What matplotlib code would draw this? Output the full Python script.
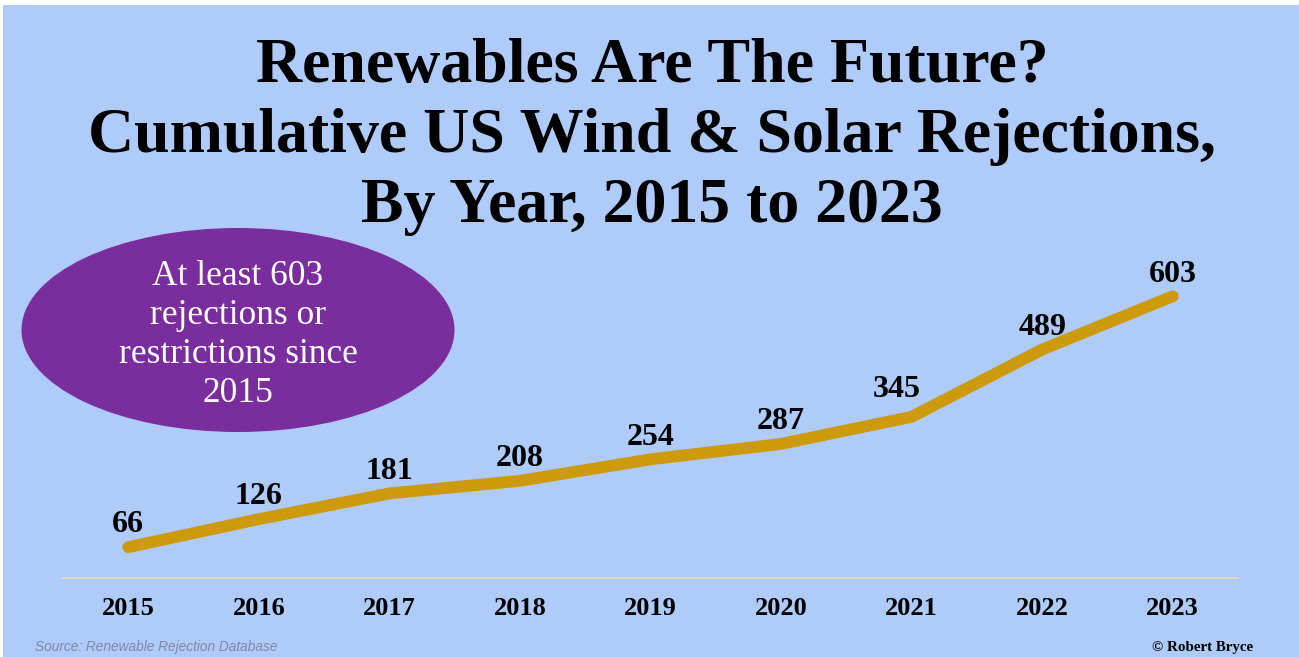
import matplotlib
matplotlib.use('Agg')
import matplotlib.pyplot as plt
from matplotlib.patches import Ellipse, Rectangle

years = [2015, 2016, 2017, 2018, 2019, 2020, 2021, 2022, 2023]
rejections = [66, 126, 181, 208, 254, 287, 345, 489, 603]
title_lines = ['Renewables Are The Future?',
               'Cumulative US Wind & Solar Rejections,',
               'By Year, 2015 to 2023']
bubble_text = 'At least 603\nrejections or\nrestrictions since\n2015'

W, H = 1299, 657
bg = '#AECBFA'
serif = 'Liberation Serif'

fig = plt.figure(figsize=(W / 100, H / 100), dpi=100, facecolor='white')
fig.patches.append(Rectangle((3 / W, 0), 1, 1 - 5 / H, transform=fig.transFigure,
                             facecolor=bg, edgecolor='none', zorder=-10))

ax = fig.add_axes([63 / W, 79 / H, (1238 - 63) / W, 328 / H])
ax.set_facecolor('none')
ax.plot(years, rejections, color='#CC9A0A', lw=8.5, solid_capstyle='round',
        solid_joinstyle='round')
ax.set_xlim(2014.5, 2023.5)
ax.set_ylim(0, 702)

# little nudges for the labels, in points
label_dx = [0, 0, 0, 0, 0, 0, -11, 0, 0]
label_dy = [16, 16, 16, 16, 16, 16, 20, 16, 16]
for x, y, dx, dy in zip(years, rejections, label_dx, label_dy):
    ax.annotate(str(y), (x, y), xytext=(dx, dy), textcoords='offset points',
                ha='center', va='center', fontsize=23, fontweight='bold',
                family=serif, color='black')

for s in ['top', 'left', 'right']:
    ax.spines[s].set_visible(False)
ax.spines['bottom'].set_color('#DCD8C2')
ax.spines['bottom'].set_linewidth(1.5)
ax.set_yticks([])
ax.set_xticks(years)
ax.set_xticklabels([str(y) for y in years], fontsize=19, fontweight='bold',
                   family=serif)
ax.tick_params(axis='x', length=0, pad=14)

for i, line in enumerate(title_lines):
    fig.text(652 / W, 1 - (67 + 70 * i) / H, line, ha='center', va='center',
             fontsize=46, fontweight='bold', family=serif, color='black')

fig.patches.append(Ellipse((238 / W, 1 - 330 / H), 433 / W, 204 / H,
                           transform=fig.transFigure, facecolor='#7A2D9C',
                           edgecolor='none'))
fig.text(238 / W, 1 - 335 / H, bubble_text, ha='center', va='center',
         fontsize=25.5, family=serif, color='white', linespacing=1.25)

fig.text(35 / W, 1 - 647 / H, 'Source: Renewable Rejection Database',
         ha='left', va='center', fontsize=9.8, style='italic',
         family='Liberation Sans', color='#8089A0')
fig.text(1253 / W, 1 - 648 / H, '© Robert Bryce', ha='right', va='center',
         fontsize=10.8, fontweight='bold', family=serif, color='black')

fig.savefig('out.png', dpi=100, facecolor=fig.get_facecolor())
